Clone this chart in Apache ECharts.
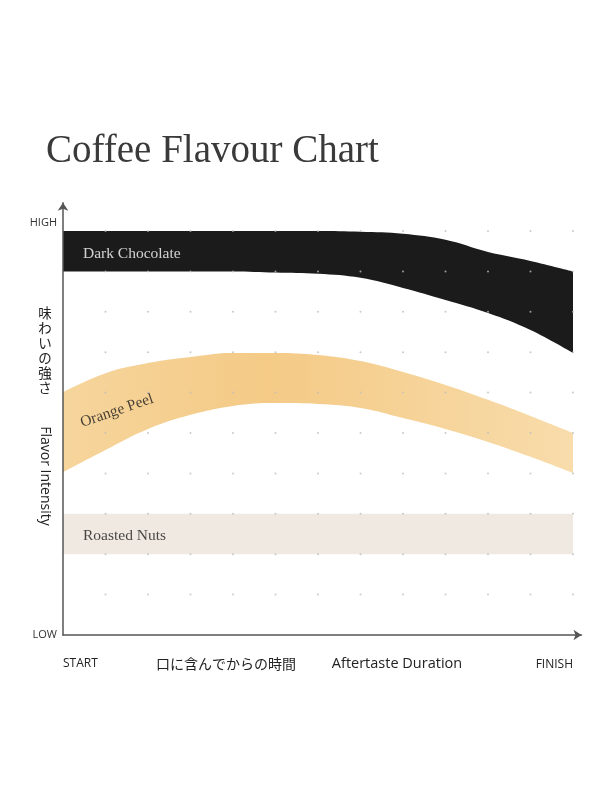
<!DOCTYPE html>
<html>
<head>
<meta charset="utf-8">
<script src="https://cdn.jsdelivr.net/npm/echarts@6/dist/echarts.min.js"></script>
<style>
html, body { margin: 0; padding: 0; background: #fff; }
#chart { width: 600px; height: 800px; }
</style>
</head>
<body>
<div id="chart"></div>
<script>
// time steps along the x axis (START .. FINISH) and intensity steps on y
const xTicks = [0, 1, 2, 3, 4, 5, 6, 7, 8, 9, 10, 11, 12];
const yTicks = [0, 1, 2, 3, 4, 5, 6, 7, 8, 9, 10];

// band edges
const darkTop = [10, 10, 10, 10, 10, 10, 10, 9.98, 9.93, 9.78, 9.48, 9.26, 9.0];
const darkBottom = [9, 9, 9, 9, 9, 8.97, 8.94, 8.84, 8.59, 8.29, 7.97, 7.55, 6.98];
const orangeTop = [6.01, 6.48, 6.73, 6.88, 6.98, 6.98, 6.93, 6.78, 6.51, 6.19, 5.82, 5.42, 5.0];
const orangeBottom = [4.03, 4.58, 5.10, 5.45, 5.67, 5.74, 5.72, 5.62, 5.37, 5.10, 4.78, 4.41, 4.01];
const nutsTop = [3, 3, 3, 3, 3, 3, 3, 3, 3, 3, 3, 3, 3];
const nutsBottom = [2, 2, 2, 2, 2, 2, 2, 2, 2, 2, 2, 2, 2];

const bandNames = ['Dark Chocolate', 'Orange Peel', 'Roasted Nuts'];
const bandLabelAt = [[0.47, 9.43], [1.27, 5.55], [0.47, 2.45]];

const yLabelValues = [0, 10.2];
const yLabelTexts = ['LOW', 'HIGH'];

const chart = echarts.init(document.getElementById('chart'));

function pairs(xs, ys) {
  return xs.map((x, i) => [x, ys[i]]);
}

// an edge line whose area is filled down to the axis minimum;
// bands are drawn top to bottom: colour under the top edge, white under the bottom edge
function edge(values, fill) {
  return {
    type: 'line', data: pairs(xTicks, values),
    symbol: 'none', smooth: 0.4,
    lineStyle: { width: 0, opacity: 0 },
    areaStyle: { color: fill, opacity: 1, origin: 'start' },
    silent: true, z: 2
  };
}

const dots = [];
xTicks.forEach(x => {
  yTicks.forEach(y => {
    if (x > 0 && y > 0) dots.push([x, y]);
  });
});

const orangeFill = new echarts.graphic.LinearGradient(0, 0, 1, 0, [
  { offset: 0, color: '#f6d59c' },
  { offset: 0.4, color: '#f4ca86' },
  { offset: 1, color: '#f8dcab' }
]);

const serif = '"Liberation Serif", "DejaVu Serif", serif';
const sans = '"Open Sans", "Noto Sans", sans-serif';
const cjk = '"Noto Sans CJK JP", sans-serif';

const labelStyles = [
  { color: '#ffffff', align: 'left', rotate: 0 },
  { color: '#1a1a1a', align: 'center', rotate: 19 },
  { color: '#1a1a1a', align: 'left', rotate: 0 }
];

const option = {
  animation: false,
  title: {
    text: 'Coffee Flavour Chart',
    left: 41, top: 127,
    textStyle: { fontFamily: serif, fontSize: 39, fontWeight: 'normal', color: '#3a3a3a' }
  },
  grid: { left: 63, right: 18.5, top: 202.7, bottom: 165 },
  xAxis: {
    type: 'value', min: 0, max: 12.2, z: 4,
    axisLine: {
      show: true, symbol: ['none', 'arrow'], symbolSize: [8, 8],
      lineStyle: { color: '#555', width: 1.5 }
    },
    axisTick: { show: false },
    axisLabel: { show: false },
    splitLine: { show: false }
  },
  yAxis: {
    type: 'value', min: 0, max: 10.7, z: 4,
    axisLine: {
      show: true, symbol: ['none', 'arrow'], symbolSize: [8, 8],
      lineStyle: { color: '#555', width: 1.5 }
    },
    axisTick: { show: false },
    splitLine: { show: false },
    axisLabel: {
      customValues: yLabelValues,
      formatter: v => yLabelTexts[yLabelValues.indexOf(v)],
      margin: 6, fontFamily: sans, fontSize: 11, color: '#333'
    }
  },
  graphic: [
    { type: 'text', x: 63, y: 664, style: { text: 'START', font: '12px ' + sans, fill: '#222', textAlign: 'left', textVerticalAlign: 'middle' } },
    { type: 'text', x: 226, y: 664, style: { text: '口に含んでからの時間', font: '14px ' + cjk, fill: '#222', textAlign: 'center', textVerticalAlign: 'middle' } },
    { type: 'text', x: 397, y: 664, style: { text: 'Aftertaste Duration', font: '14.5px ' + sans, fill: '#222', textAlign: 'center', textVerticalAlign: 'middle' } },
    { type: 'text', x: 573, y: 665, style: { text: 'FINISH', font: '12px ' + sans, fill: '#222', textAlign: 'right', textVerticalAlign: 'middle' } },
    { type: 'text', x: 45, y: 350, style: { text: '味\nわ\nい\nの\n強\nさ', font: '13.5px ' + cjk, lineHeight: 15, fill: '#222', textAlign: 'center', textVerticalAlign: 'middle' } },
    { type: 'text', x: 45, y: 476, rotation: -Math.PI / 2, style: { text: 'Flavor Intensity', font: '14px ' + sans, fill: '#222', textAlign: 'center', textVerticalAlign: 'middle' } }
  ],
  series: [
    edge(darkTop, '#1b1b1b'),
    edge(darkBottom, '#ffffff'),
    edge(orangeTop, orangeFill),
    edge(orangeBottom, '#ffffff'),
    edge(nutsTop, '#f0e9e1'),
    edge(nutsBottom, '#ffffff'),
    {
      type: 'scatter', data: dots, symbolSize: 2, silent: true, z: 5,
      itemStyle: { color: '#bdbdbd' }
    },
    {
      type: 'scatter', symbolSize: 0, silent: true, z: 6,
      data: bandNames.map((name, i) => ({
        name: name,
        value: bandLabelAt[i],
        label: {
          show: true, position: [0, 0],
          formatter: name,
          align: labelStyles[i].align,
          verticalAlign: 'middle',
          rotate: labelStyles[i].rotate,
          color: labelStyles[i].color,
          fontFamily: serif, fontSize: 15.5
        }
      }))
    }
  ]
};

chart.setOption(option);
</script>
</body>
</html>
